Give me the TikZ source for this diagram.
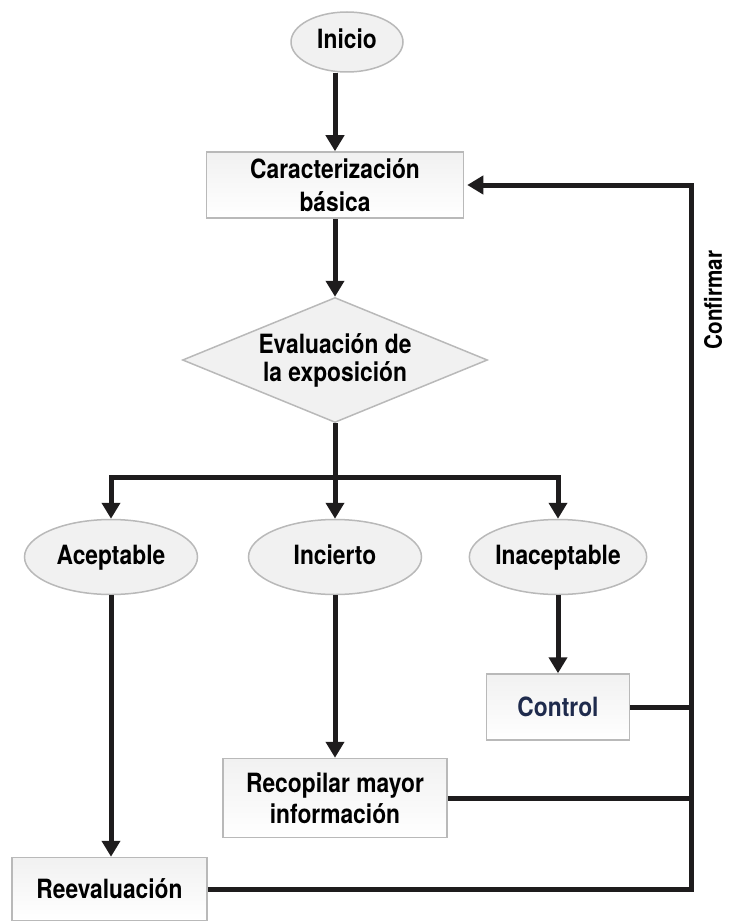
\documentclass[tikz,border=0pt]{standalone}
\usepackage{fontspec}
\setmainfont{TeX Gyre Heros}[FakeStretch=0.86]
\usetikzlibrary{shapes.geometric,arrows.meta,positioning}

\definecolor{borde}{HTML}{B9B9B9}
\definecolor{relleno}{HTML}{F1F1F1}
\definecolor{trazo}{HTML}{1E1C1D}
\definecolor{azulctrl}{HTML}{1F2B4D}

\tikzset{
  caja/.style={rectangle, draw=borde, line width=1.5pt, top color=relleno, bottom color=white,
    align=center, inner sep=0pt, font={\fontsize{26.5}{31}\selectfont\bfseries}},
  ovalo/.style={ellipse, draw=borde, line width=1.5pt, fill=relleno, inner sep=0pt,
    text height=19pt, text depth=5pt,
    minimum width=173pt, minimum height=75pt, font={\fontsize{26.5}{31}\selectfont\bfseries}},
  rombo/.style={diamond, draw=borde, line width=1.5pt, fill=relleno, aspect=2.44, inner sep=0pt,
    minimum width=305pt, minimum height=125pt, align=center, font={\fontsize{26.5}{28}\selectfont\bfseries}},
  flecha/.style={draw=trazo, line width=5pt, -{Triangle[width=18pt,length=16pt]}},
  conector/.style={draw=trazo, line width=5pt}
}

\begin{document}
\begin{tikzpicture}[x=1pt,y=-1pt]

\useasboundingbox (0,0) rectangle (728,923);

%Main column
\node[ovalo, minimum width=112pt, minimum height=60pt] (inicio) at (347,42) {Inicio};
\node[caja, minimum width=257pt, minimum height=66pt, font={\fontsize{26.5}{33}\selectfont\bfseries}] (carac) at (335,185) {Caracterización\\básica};
\node[rombo] (eval) at (335,360) {Evaluación de\\la exposición};

%Three outcomes
\node[ovalo] (acep) at (111,557) {Aceptable};
\node[ovalo] (incierto) at (335,557) {Incierto};
\node[ovalo] (inacep) at (558,557) {Inaceptable};

%Actions
\node[caja, minimum width=143pt, minimum height=66pt, text=azulctrl] (control) at (558,707) {Control};
\node[caja, minimum width=224pt, minimum height=79pt] (recop) at (335,798) {Recopilar mayor\\información};
\node[caja, minimum width=195pt, minimum height=63pt] (reev) at (109.5,889) {Reevaluación};

%Return line
\coordinate (bar) at (335,477);
\coordinate (retorno) at (691,889);
\node[rotate=90, inner sep=0pt, font={\fontsize{24}{28}\selectfont\bfseries}] (conf) at (713,300) {Confirmar};

%Drawing arrows
\draw[flecha] (inicio.south -| carac.north) -- (carac.north);
\draw[flecha] (carac.south) -- (eval.north);
\draw[flecha] (eval.south) -- (incierto.north);
\draw[flecha] (bar) -| (acep.north);
\draw[flecha] (bar) -| (inacep.north);
\draw[flecha] (acep.south) -- (acep.south |- reev.north);
\draw[flecha] (incierto.south) -- (recop.north);
\draw[flecha] (inacep.south) -- (control.north);

\draw[conector] (control.east) -- (control.east -| retorno);
\draw[conector] (recop.east) -- (recop.east -| retorno);
\draw[flecha, shorten >=3pt] (reev.east) -- (retorno) |- (carac.east);

\end{tikzpicture}
\end{document}
